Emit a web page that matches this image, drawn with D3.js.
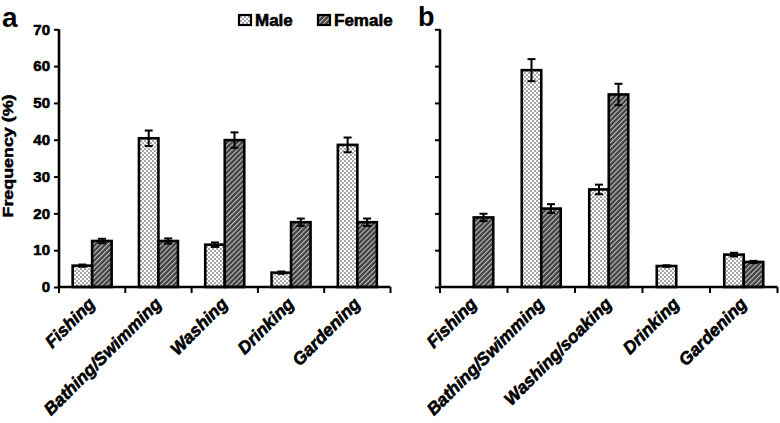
<!DOCTYPE html>
<html>
<head>
<meta charset="utf-8">
<script src="https://cdn.jsdelivr.net/npm/d3@7/dist/d3.min.js"></script>
<style>
  html, body { margin: 0; padding: 0; background: #fff; }
  svg { display: block; }
  text { font-family: "Liberation Sans", Arial, sans-serif; font-weight: bold; fill: #000; }
</style>
</head>
<body>
<svg id="chart" width="780" height="423"></svg>
<script>
// ---- data ----
const seriesNames = ["Male", "Female"];
const categoriesA = ["Fishing", "Bathing/Swimming", "Washing", "Drinking", "Gardening"];
const maleA = [5.8, 40.4, 11.5, 3.9, 38.6];
const femaleA = [12.5, 12.5, 39.9, 17.6, 17.6];
const maleErrA = [0.3, 2.1, 0.6, 0.3, 2.0];
const femaleErrA = [0.6, 0.7, 2.1, 1.0, 1.0];

const categoriesB = ["Fishing", "Bathing/Swimming", "Washing/soaking", "Drinking", "Gardening"];
const maleB = [0, 58.9, 26.5, 5.7, 8.8];
const femaleB = [18.9, 21.3, 52.3, 0, 6.8];
const maleErrB = [0, 3.0, 1.3, 0.2, 0.5];
const femaleErrB = [1.0, 1.2, 2.9, 0, 0.3];

const yTicks = [0, 10, 20, 30, 40, 50, 60, 70];
const yLabel = "Frequency (%)";

// ---- setup ----
const svg = d3.select("#chart");
const defs = svg.append("defs");

// Male: light checker pattern
const pm = defs.append("pattern").attr("id", "patMale")
  .attr("patternUnits", "userSpaceOnUse").attr("width", 4).attr("height", 4);
pm.append("rect").attr("width", 4).attr("height", 4).attr("fill", "#ffffff");
pm.append("rect").attr("x", 0).attr("y", 0).attr("width", 2).attr("height", 2).attr("fill", "#a8a8a8");
pm.append("rect").attr("x", 2).attr("y", 2).attr("width", 2).attr("height", 2).attr("fill", "#a8a8a8");

// Female: dark diagonal hatch
const pf = defs.append("pattern").attr("id", "patFemale")
  .attr("patternUnits", "userSpaceOnUse").attr("width", 3.5).attr("height", 3.5)
  .attr("patternTransform", "rotate(45)");
pf.append("rect").attr("width", 3.5).attr("height", 3.5).attr("fill", "#424242");
pf.append("rect").attr("x", 0).attr("y", 0).attr("width", 1.1).attr("height", 3.5).attr("fill", "#c0c0c0");

const fills = { Male: "url(#patMale)", Female: "url(#patFemale)" };

const y = d3.scaleLinear().domain([0, 70]).range([287, 29.3]);

function heavy(sel, w) {
  return sel.attr("stroke", "#000").attr("stroke-width", w).attr("stroke-linejoin", "round");
}

function panel(x0, x1, cats, male, female, maleErr, femaleErr, showLabels) {
  const x = d3.scaleBand().domain(cats).range([x0, x1]).paddingInner(0).paddingOuter(0);
  const barW = 19.5;
  const g = svg.append("g");

  const rows = [];
  cats.forEach((c, i) => {
    rows.push({ c, s: "Male", v: male[i], e: maleErr[i], off: -barW });
    rows.push({ c, s: "Female", v: female[i], e: femaleErr[i], off: 0 });
  });
  const vis = rows.filter(d => d.v > 0);

  g.selectAll("rect.bar").data(vis).enter().append("rect")
    .attr("class", "bar")
    .attr("x", d => x(d.c) + x.bandwidth() / 2 + d.off)
    .attr("y", d => y(d.v))
    .attr("width", barW)
    .attr("height", d => y(0) - y(d.v))
    .attr("fill", d => fills[d.s])
    .attr("stroke", "#000").attr("stroke-width", 2.6);

  // error bars
  const eb = g.selectAll("g.err").data(vis.filter(d => d.e > 0)).enter().append("g");
  const cx = d => x(d.c) + x.bandwidth() / 2 + d.off + barW / 2;
  eb.append("line")
    .attr("x1", cx).attr("x2", cx)
    .attr("y1", d => y(d.v - d.e)).attr("y2", d => y(d.v + d.e))
    .attr("stroke", "#000").attr("stroke-width", 2);
  [1, -1].forEach(sgn => {
    eb.append("line")
      .attr("x1", d => cx(d) - 4).attr("x2", d => cx(d) + 4)
      .attr("y1", d => y(d.v + sgn * d.e)).attr("y2", d => y(d.v + sgn * d.e))
      .attr("stroke", "#000").attr("stroke-width", 2);
  });

  // y axis
  const ya = d3.axisLeft(y).tickValues(yTicks).tickSize(5).tickPadding(4)
    .tickFormat(showLabels ? d3.format("d") : "");
  const yg = g.append("g").attr("transform", `translate(${x0},0)`).call(ya);
  yg.select(".domain").attr("stroke", "#000").attr("stroke-width", 2.6)
    .attr("d", `M0,${y(70)}V${y(0)}`);
  yg.selectAll(".tick line").attr("stroke", "#000").attr("stroke-width", 2);
  heavy(yg.selectAll(".tick text"), 0.6).style("font-size", "15px").style("font-weight", "bold")
    .style("font-family", '"Liberation Sans", Arial, sans-serif').attr("fill", "#000");

  // x axis with ticks at band boundaries
  const xg = g.append("g");
  xg.append("line").attr("x1", x0).attr("x2", x1).attr("y1", y(0)).attr("y2", y(0))
    .attr("stroke", "#000").attr("stroke-width", 2.6);
  const bounds = cats.map(c => x(c)).concat([x1]);
  xg.selectAll("line.tk").data(bounds).enter().append("line")
    .attr("x1", d => d).attr("x2", d => d)
    .attr("y1", y(0)).attr("y2", y(0) + 6)
    .attr("stroke", "#000").attr("stroke-width", 2);

  // category labels
  heavy(xg.selectAll("text.cat").data(cats).enter().append("text"), 0.6)
    .attr("transform", d => `translate(${x(d) + x.bandwidth() / 2 + 4},305) rotate(-45)`)
    .attr("text-anchor", "end")
    .style("font-size", "17.5px").style("font-style", "italic")
    .text(d => d);
}

panel(59, 390.5, categoriesA, maleA, femaleA, maleErrA, femaleErrA, true);
panel(440, 777.5, categoriesB, maleB, femaleB, maleErrB, femaleErrB, false);

// y label
heavy(svg.append("text"), 0.5)
  .attr("transform", "translate(13,156) rotate(-90)")
  .attr("text-anchor", "middle")
  .attr("textLength", 123).attr("lengthAdjust", "spacingAndGlyphs")
  .style("font-size", "14px")
  .text(yLabel);

// panel letters
svg.append("text").attr("x", 2).attr("y", 27).style("font-size", "28px").text("a");
svg.append("text").attr("x", 418).attr("y", 26).style("font-size", "27px").text("b");

// legend
const legX = [239, 318];
const lg = svg.append("g");
seriesNames.forEach((s, i) => {
  lg.append("rect").attr("x", legX[i]).attr("y", 15).attr("width", 12).attr("height", 10)
    .attr("fill", fills[s]).attr("stroke", "#000").attr("stroke-width", 2.2);
  heavy(lg.append("text"), 0.6).attr("x", legX[i] + 16).attr("y", 26).style("font-size", "17px").text(s);
});
</script>
</body>
</html>
